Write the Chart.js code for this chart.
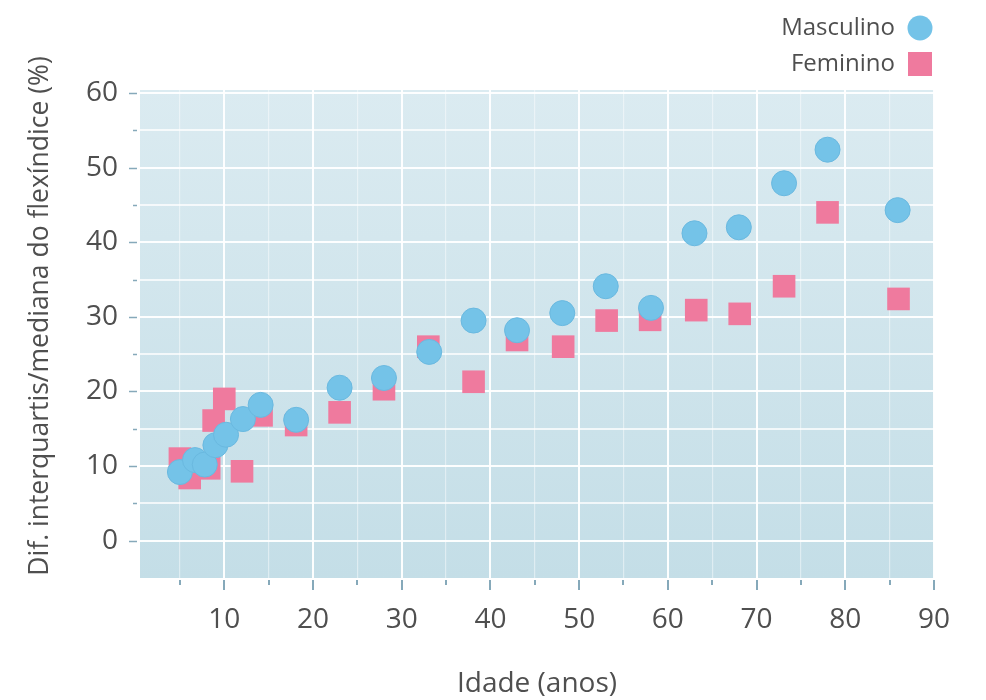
<!DOCTYPE html>
<html>
<head>
<meta charset="utf-8">
<script src="https://cdn.jsdelivr.net/npm/chart.js@4.4.1/dist/chart.umd.min.js"></script>
<style>
  html, body { margin: 0; padding: 0; background: #fff; }
  #wrap { width: 986px; height: 700px; }
</style>
</head>
<body>
<div id="wrap"><canvas id="flexChart" width="986" height="700"></canvas></div>
<script>
// valores
const idadeMasc = [5, 6.7, 7.8, 9, 10.2, 12.1, 14.1, 18.1, 23, 28, 33.1, 38.1, 43, 48.1, 53, 58.1, 63, 68, 73.1, 78, 85.9];
const valMasc   = [9.2, 10.8, 10.2, 12.8, 14.2, 16.3, 18.2, 16.2, 20.5, 21.8, 25.3, 29.5, 28.2, 30.5, 34.1, 31.2, 41.2, 42.0, 47.9, 52.4, 44.3];
const idadeFem  = [5, 6.1, 8.3, 8.8, 10, 12, 14.2, 18.1, 23, 28, 33, 38.1, 43, 48.2, 53.1, 58, 63.2, 68.1, 73.1, 78, 86];
const valFem    = [11.0, 8.4, 9.7, 16.1, 19.0, 9.3, 16.8, 15.5, 17.2, 20.3, 26.0, 21.3, 26.9, 26.0, 29.5, 29.6, 30.9, 30.4, 34.1, 44.0, 32.4];

const xTicks = [5, 10, 15, 20, 25, 30, 35, 40, 45, 50, 55, 60, 65, 70, 75, 80, 85, 90];
const yTicks = [0, 5, 10, 15, 20, 25, 30, 35, 40, 45, 50, 55, 60];

const tituloY = "Dif. interquartis/mediana do flexíndice (%)";
const tituloX = "Idade (anos)";

const corTexto = "#4f4f4f";
const corAzul = "#74c3e8";
const corRosa = "#ef7a9e";
const fonte = "'Open Sans', sans-serif";

const toPts = (xs, ys) => xs.map((x, i) => ({ x: x, y: ys[i] }));

// fundo azul da área do gráfico
const fundo = {
  id: "fundo",
  beforeDraw(chart) {
    const { ctx, chartArea: a } = chart;
    const g = ctx.createLinearGradient(0, a.top, 0, a.bottom);
    g.addColorStop(0, "#dbebf1");
    g.addColorStop(1, "#c4dee7");
    ctx.save();
    ctx.fillStyle = g;
    ctx.fillRect(a.left, a.top, a.right - a.left, a.bottom - a.top);
    ctx.restore();
  }
};

// marcas dos eixos, título Y e legenda
const extras = {
  id: "extras",
  afterDraw(chart) {
    const { ctx, chartArea: a, scales } = chart;
    ctx.save();
    ctx.strokeStyle = "#86a9ba";
    ctx.lineWidth = 1.5;
    yTicks.forEach(v => {
      const y = Math.round(scales.y.getPixelForValue(v)) + 0.5;
      const major = v % 10 === 0;
      ctx.beginPath();
      ctx.moveTo(a.left - (major ? 11 : 7), y);
      ctx.lineTo(a.left - 3, y);
      ctx.stroke();
    });
    ctx.lineWidth = 2;
    xTicks.forEach(v => {
      const x = Math.round(scales.x.getPixelForValue(v));
      const major = v % 10 === 0;
      ctx.beginPath();
      ctx.moveTo(x, a.bottom + 2);
      ctx.lineTo(x, a.bottom + (major ? 12 : 7));
      ctx.stroke();
    });

    // título do eixo Y
    ctx.fillStyle = corTexto;
    ctx.font = "26.5px " + fonte;
    ctx.textAlign = "center";
    ctx.textBaseline = "middle";
    ctx.save();
    ctx.translate(40, 316);
    ctx.rotate(-Math.PI / 2);
    ctx.fillText(tituloY, 0, 0);
    ctx.restore();

    // legenda
    ctx.font = "24px " + fonte;
    ctx.textAlign = "right";
    chart.data.datasets.forEach((ds, i) => {
      const y = 28 + i * 36;
      ctx.fillStyle = corTexto;
      ctx.fillText(ds.label, 895, y);
      ctx.fillStyle = ds.backgroundColor;
      if (ds.pointStyle === "rect") {
        ctx.fillRect(908, y - 12, 24, 24);
      } else {
        ctx.beginPath();
        ctx.arc(920, y, 12.5, 0, Math.PI * 2);
        ctx.fill();
      }
    });
    ctx.restore();
  }
};

new Chart(document.getElementById("flexChart"), {
  type: "scatter",
  data: {
    datasets: [
      {
        label: "Masculino",
        data: toPts(idadeMasc, valMasc),
        backgroundColor: corAzul,
        borderColor: "#6ab9e0",
        borderWidth: 1,
        pointRadius: 12.5,
        pointHoverRadius: 12.5,
        order: 0
      },
      {
        label: "Feminino",
        data: toPts(idadeFem, valFem),
        pointStyle: "rect",
        backgroundColor: corRosa,
        borderColor: corRosa,
        borderWidth: 0,
        pointRadius: 16,
        pointHoverRadius: 16,
        order: 1
      }
    ]
  },
  options: {
    responsive: false,
    animation: false,
    layout: { padding: { top: 90, right: 52, left: 0, bottom: 0 } },
    plugins: {
      legend: { display: false },
      tooltip: { enabled: false }
    },
    scales: {
      x: {
        type: "linear",
        min: 0.5,
        max: 90,
        afterBuildTicks: s => { s.ticks = xTicks.map(v => ({ value: v })); },
        afterFit: s => { s.height = 122; },
        border: { display: false },
        grid: {
          drawTicks: false,
          color: c => (c.tick && c.tick.value % 10 === 0) ? "rgba(255,255,255,0.95)" : "rgba(255,255,255,0.45)",
          lineWidth: c => (c.tick && c.tick.value % 10 === 0) ? 2 : 1.2
        },
        ticks: {
          padding: 25,
          color: corTexto,
          font: { family: fonte, size: 28 },
          callback: v => (v % 10 === 0 ? v : "")
        },
        title: {
          display: true,
          text: tituloX,
          color: corTexto,
          font: { family: fonte, size: 28 },
          padding: { top: 0, bottom: -1 }
        }
      },
      y: {
        type: "linear",
        min: -5,
        max: 60.4,
        afterBuildTicks: s => { s.ticks = yTicks.map(v => ({ value: v })); },
        afterFit: s => { s.width = 140; },
        border: { display: false },
        grid: {
          drawTicks: false,
          color: c => (c.tick && c.tick.value % 10 === 0) ? "rgba(255,255,255,0.95)" : "rgba(255,255,255,0.75)",
          lineWidth: 2
        },
        ticks: {
          padding: 22,
          color: corTexto,
          font: { family: fonte, size: 28 },
          callback: v => (v % 10 === 0 ? v : "")
        }
      }
    }
  },
  plugins: [fundo, extras]
});
</script>
</body>
</html>
